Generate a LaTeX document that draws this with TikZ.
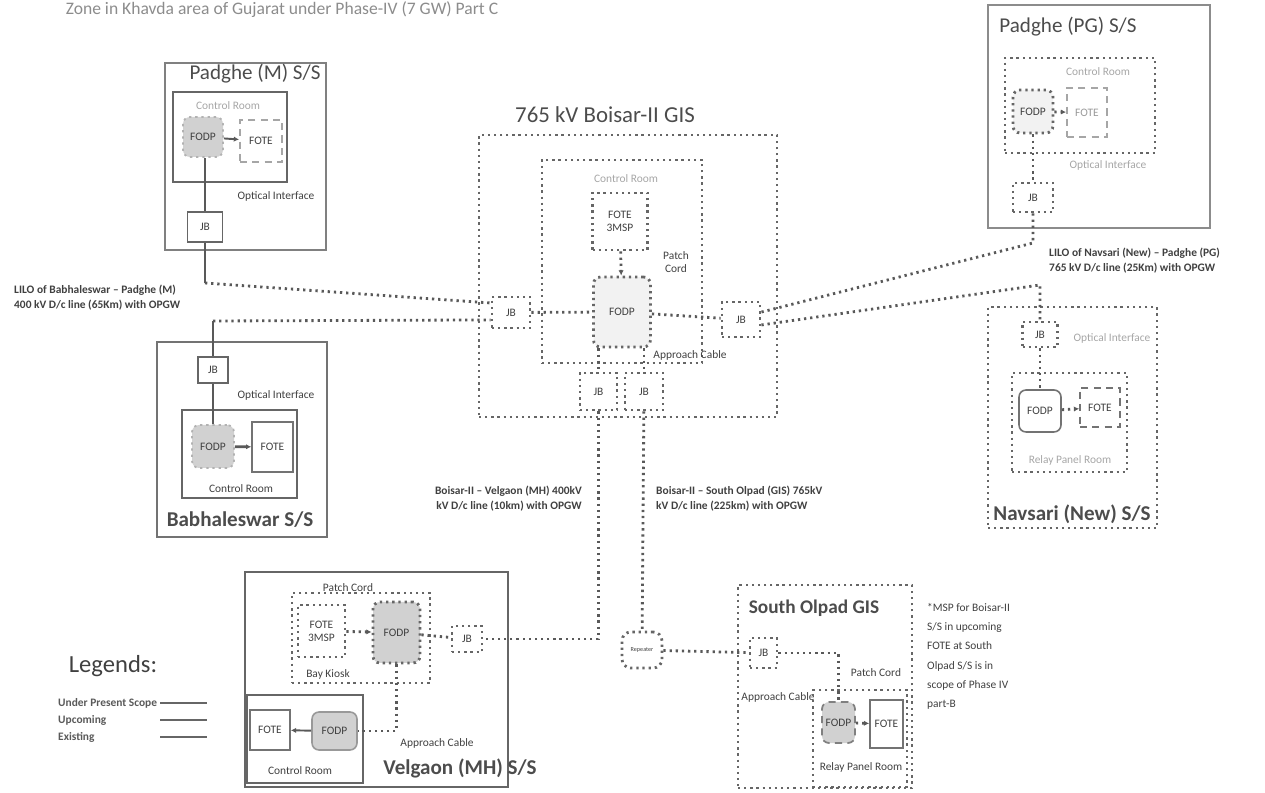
\documentclass[tikz,border=0pt]{standalone}
\usepackage{fontspec}
\setmainfont{Carlito}
\usetikzlibrary{arrows.meta, positioning}

\begin{document}
\begin{tikzpicture}[
        x=0.02cm, y=-0.02cm,
        >={Latex[length=3pt,width=3pt]},
        font=\fontsize{6.5}{7.5}\selectfont,
        text=black!75,
        sz/.style 2 args={minimum width=#1*0.02cm, minimum height=#2*0.02cm},
        solidbox/.style={rectangle, draw=black!60, line width=1.1pt, inner sep=1pt, align=center},
        dotbox/.style={rectangle, draw=black!60, line width=1.6pt, dash pattern=on 1.3pt off 2.2pt, inner sep=1pt, align=center},
        dashbox/.style={rectangle, draw=black!35, line width=1pt, dash pattern=on 4pt off 3pt, inner sep=1pt, align=center},
        fodp/.style={rounded corners=4pt, fill=black!18},
        lnsolid/.style={draw=black!65, line width=1.1pt},
        lndot/.style={draw=black!65, line width=1.6pt, dash pattern=on 1.3pt off 2.2pt},
        ttl/.style={font=\fontsize{12}{14}\selectfont, text=black!70},
        ttlb/.style={font=\fontsize{12}{14}\selectfont\bfseries, text=black!70},
        faded/.style={text=black!35},
        lilo/.style={font=\fontsize{6.5}{8.5}\selectfont\bfseries, align=left}
    ]
    \useasboundingbox (0,0) rectangle (1265,793);

    % Heading
    \node[anchor=base, font=\fontsize{10}{12}\selectfont, text=black!45] (head) at (282,15) {Zone in Khavda area of Gujarat under Phase-IV (7 GW) Part C};

    % Padghe (M)
    \node[solidbox, draw=black!50, sz={161}{187}] (pmss) at (245.5,156.5) {};
    \node[ttl] (pmttl) at (255,74) {Padghe (M) S/S};
    \node[solidbox, sz={114}{90}] (pmcr) at (230,137) {};
    \node[faded] (pmcrlbl) at (228,106) {Control Room};
    \node[dotbox, draw=black!30, line width=1pt, fodp, sz={40}{40}] (pmfodp) at (203,137) {FODP};
    \node[dashbox, sz={42}{42}] (pmfote) at (261,141) {FOTE};
    \node[solidbox, sz={35}{30}] (pmjb) at (205,227) {JB};
    \node (pmoi) at (276,196) {Optical Interface};
    \coordinate (pmend) at (205,283);

    % Babhaleswar
    \node[solidbox, draw=black!55, sz={170}{195}] (bbss) at (242,439.5) {};
    \node[ttlb] (bbttl) at (240,520) {Babhaleswar S/S};
    \node[solidbox, sz={30}{26}] (bbjb) at (213,370) {JB};
    \node (bboi) at (276,395) {Optical Interface};
    \node[solidbox, sz={115}{88}] (bbcr) at (239.5,454) {};
    \node[dotbox, draw=black!30, line width=1pt, fodp, sz={42}{43}] (bbfodp) at (213,446.5) {FODP};
    \node[solidbox, draw=black!55, line width=0.8pt, sz={41}{50}] (bbfote) at (272.5,447) {FOTE};
    \node (bbcrlbl) at (241,489) {Control Room};
    \coordinate (bbend) at (213,321);

    \node[lilo, anchor=west] (lilobb) at (8,298) {LILO of Babhaleswar -- Padghe (M)\\400 kV D/c line (65Km) with OPGW};

    % 765 kV Boisar-II GIS
    \node[ttl, font=\fontsize{13}{15}\selectfont] (bsttl) at (605,115) {765 kV Boisar-II GIS};
    \node[dotbox, sz={298}{282}] (bsgis) at (628,276) {};
    \node[dotbox, sz={160}{203}] (bscr) at (622,261.5) {};
    \node[faded] (bscrlbl) at (626,179) {Control Room};
    \node[dotbox, sz={55}{57}] (bsfote) at (620,221.5) {FOTE\\3MSP};
    \node[align=center] (bspc) at (676,262) {Patch\\Cord};
    \node[dotbox, fodp, fill=black!5, sz={57}{70}] (bsfodp) at (622,312) {FODP};
    \node[dotbox, sz={38}{31}] (bjbl) at (511,312.5) {JB};
    \node[dotbox, sz={38}{35}] (bjbr) at (741,319.5) {JB};
    \node (bsac) at (690,355) {Approach Cable};
    \node[dotbox, sz={37}{37}] (bjb1) at (598.5,391.5) {JB};
    \node[dotbox, sz={38}{37}] (bjb2) at (644,391.5) {JB};

    % Padghe (PG)
    \node[solidbox, draw=black!45, line width=0.9pt, sz={222}{223}] (pgss) at (1099,116.5) {};
    \node[ttl] (pgttl) at (1068,27) {Padghe (PG) S/S};
    \node[dotbox, sz={150}{95}] (pgcr) at (1080,105.5) {};
    \node[faded] (pgcrlbl) at (1098,72) {Control Room};
    \node[dotbox, fodp, fill=black!5, sz={40}{43}] (pgfodp) at (1033,111.5) {FODP};
    \node[dashbox, text=black!40, sz={40}{49}] (pgfote) at (1087,112.5) {FOTE};
    \node[faded] (pgoi) at (1108,165) {Optical Interface};
    \node[dotbox, sz={40}{29}] (pgjb) at (1033,197.5) {JB};
    \coordinate (pgbend) at (1033,243);

    \node[lilo, anchor=west] (lilonv) at (1043,261) {LILO of Navsari (New) -- Padghe (PG)\\765 kV D/c line (25Km) with OPGW};

    % Navsari (New)
    \node[dotbox, sz={169}{221}] (nvss) at (1072.5,417.5) {};
    \node[ttlb] (nvttl) at (1072,514) {Navsari (New) S/S};
    \node[dotbox, sz={35}{25}] (nvjb) at (1040,334.5) {JB};
    \node[faded] (nvoi) at (1112,338) {Optical Interface};
    \node[dotbox, sz={115}{99}] (nvrp) at (1069.5,422.5) {};
    \node[solidbox, draw=black!55, line width=0.9pt, rounded corners=4pt, sz={42}{42}] (nvfodp) at (1040,411) {FODP};
    \node[dashbox, draw=black!55, sz={40}{39}] (nvfote) at (1100,407.5) {FOTE};
    \node[faded] (nvrplbl) at (1070,460) {Relay Panel Room};
    \coordinate (nvbend) at (1040,285);

    % Velgaon (MH)
    \node[solidbox, sz={263}{215}] (vgss) at (376.5,679.5) {};
    \node[ttlb] (vgttl) at (460,768) {Velgaon (MH) S/S};
    \node (vgpc) at (348,588) {Patch Cord};
    \node[dotbox, sz={138}{90}] (vgbk) at (361,638) {};
    \node[dotbox, sz={47}{52}] (vgfote) at (321.5,631) {FOTE\\3MSP};
    \node[dotbox, fodp, sz={47}{61}] (vgfodp) at (396.5,632.5) {FODP};
    \node (vgbklbl) at (328,674) {Bay Kiosk};
    \node[dotbox, sz={30}{26}] (vgjb) at (467,639) {JB};
    \node[solidbox, sz={116}{88}] (vgcr) at (305,739) {};
    \node[solidbox, draw=black!55, line width=0.9pt, sz={40}{40}] (vgfote2) at (270,730) {FOTE};
    \node[solidbox, draw=black!40, line width=0.9pt, fodp, sz={45}{38}] (vgfodp2) at (334.5,731) {FODP};
    \node (vgcrlbl) at (300,771) {Control Room};
    \node (vgac) at (437,743) {Approach Cable};

    \node[lilo, align=right, anchor=east] (lilovg) at (588,499) {Boisar-II -- Velgaon (MH) 400kV\\kV D/c line (10km) with OPGW};
    \node[lilo, anchor=west] (liloso) at (650,499) {Boisar-II -- South Olpad (GIS) 765kV\\kV D/c line (225km) with OPGW};

    % Repeater
    \node[dotbox, rounded corners=5pt, font=\fontsize{3.5}{4}\selectfont, sz={40}{36}] (rep) at (642,650) {Repeater};

    % South Olpad GIS
    \node[dotbox, sz={174}{203}] (soss) at (825,686.5) {};
    \node[ttlb, font=\fontsize{11}{13}\selectfont\bfseries] (sottl) at (814,608) {South Olpad GIS};
    \node[dotbox, sz={27}{30}] (sojb) at (763.5,653) {JB};
    \node (sopc) at (876,673) {Patch Cord};
    \node (soac) at (778,697) {Approach Cable};
    \node[dotbox, sz={94}{97}] (sorp) at (860,738.5) {};
    \node[dashbox, draw=black!50, fodp, sz={33}{41}] (sofodp) at (838.5,722.5) {FODP};
    \node[solidbox, draw=black!55, line width=0.9pt, sz={33}{48}] (sofote) at (886.5,724) {FOTE};
    \node (sorplbl) at (861,767) {Relay Panel Room};

    \node[anchor=north west, align=left, font=\fontsize{6.5}{11}\selectfont] (note) at (921,597) {*MSP for Boisar-II\\S/S in upcoming\\FOTE at South\\Olpad S/S is in\\scope of Phase IV\\part-B};

    % Legends
    \node[font=\fontsize{14}{16}\selectfont, text=black!75] (lgttl) at (113,666) {Legends:};
    \node[lilo, anchor=west, text=black!65] (lg1) at (52,703) {Under Present Scope};
    \node[lilo, anchor=west, text=black!65] (lg2) at (52,720) {Upcoming};
    \node[lilo, anchor=west, text=black!65] (lg3) at (52,737) {Existing};
    \coordinate (lg1a) at (160,703);
    \coordinate (lg1b) at (207,703);
    \coordinate (lg2a) at (160,720);
    \coordinate (lg2b) at (207,720);
    \coordinate (lg3a) at (160,737);
    \coordinate (lg3b) at (207,737);

    % Arrows
    \draw[lnsolid, ->] (pmfodp) -- (pmfote);
    \draw[lnsolid] (pmfodp.south -| pmjb) -- (pmjb);
    \draw[lnsolid] (pmjb) -- (pmend);
    \draw[lndot] (pmend) -- (bjbl.155);

    \draw[lnsolid] (bbend) -- (bbjb);
    \draw[lnsolid] (bbjb) -- (bbfodp);
    \draw[lnsolid, line width=1.6pt, ->] (bbfodp) -- (bbfote);
    \draw[lndot] (bbend) -- (bjbl.200);

    \draw[lndot, ->] (bsfote) -- (bsfodp);
    \draw[lndot] (bjbl) -- (bsfodp);
    \draw[lndot] (bsfodp) -- (bjbr);
    \draw[lndot] (bsfodp.south -| bjb1) -- (bjb1);
    \draw[lndot] (bsfodp.south -| bjb2) -- (bjb2);
    \draw[lndot] (bjb1) |- (vgjb);
    \draw[lndot] (bjb2) -- (rep);

    \draw[lndot, ->] (pgfodp) -- (pgfote);
    \draw[lndot] (pgfodp) -- (pgjb);
    \draw[lndot] (pgjb) -- (pgbend) -- (bjbr.20);
    \draw[lndot] (bjbr.-15) -- (nvbend) -- (nvjb);
    \draw[lndot] (nvjb) -- (nvfodp);
    \draw[lndot, ->] (nvfodp) -- (nvfote);

    \draw[lndot, ->] (vgfote) -- (vgfodp);
    \draw[lndot] (vgfodp) -- (vgjb);
    \draw[lndot] (vgfodp) |- (vgfodp2);
    \draw[lnsolid, ->] (vgfodp2) -- (vgfote2);

    \draw[lndot] (rep) -- (sojb);
    \draw[lndot] (sojb) -| (sofodp);
    \draw[lndot, ->] (sofodp) -- (sofote);

    \draw[black!60, line width=0.8pt] (lg1a) -- (lg1b);
    \draw[black!60, line width=0.8pt] (lg2a) -- (lg2b);
    \draw[black!60, line width=0.8pt] (lg3a) -- (lg3b);

\end{tikzpicture}
\end{document}
